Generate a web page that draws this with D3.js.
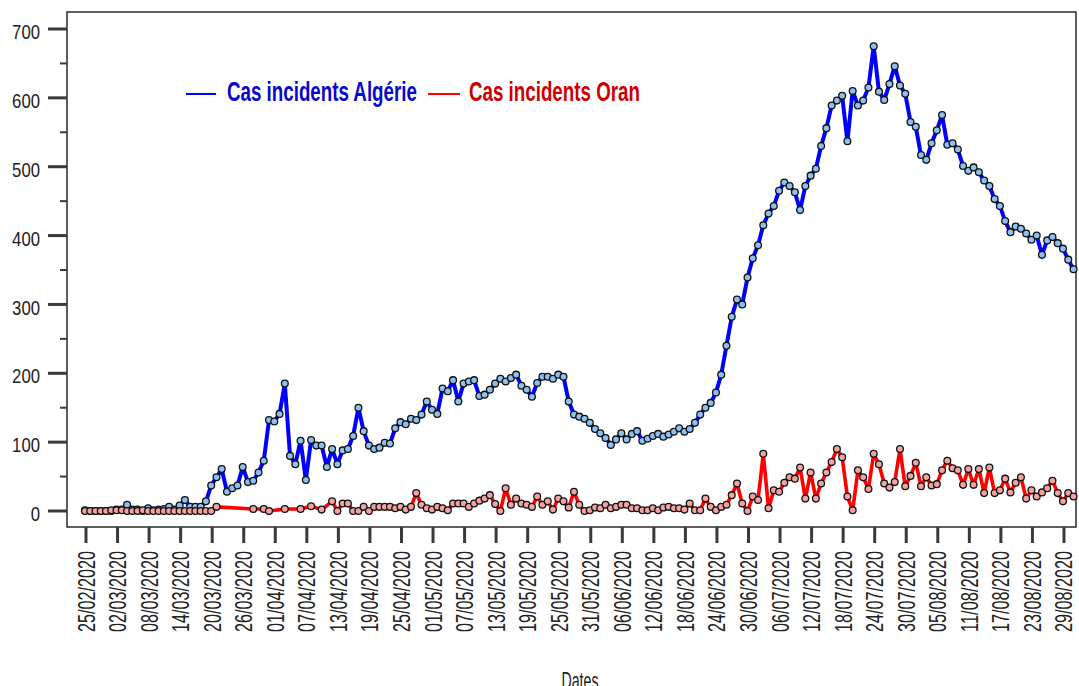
<!DOCTYPE html>
<html>
<head>
<meta charset="utf-8">
<script src="https://cdn.jsdelivr.net/npm/d3@7/dist/d3.min.js"></script>
<style>
  html, body { margin: 0; padding: 0; background: #fff; }
  svg { display: block; }
  text { font-family: "Liberation Sans Narrow", "Arial Narrow", "Liberation Sans", sans-serif; fill: #222; }
</style>
</head>
<body>
<svg id="chart" width="1079" height="686"></svg>
<script>
// Daily incident cases, 25/02/2020 -> 31/08/2020 (one value per day)
const firstDay = "25/02/2020";
const lastDay = "31/08/2020";

const casAlgerie = [
  1, 0, 0, 0, 0, 0, 2, 2, 9, 2,
  2, 0, 4, 1, 2, 3, 6, 2, 8, 16,
  6, 6, 6, 14, 37, 49, 61, 28, 33, 37,
  64, 42, 44, 56, 73, 132, 130, 141, 185, 80,
  68, 102, 45, 103, 95, 95, 64, 90, 68, 88,
  90, 109, 150, 116, 95, 90, 92, 99, 98, 120,
  129, 126, 134, 132, 140, 159, 147, 141, 178, 174,
  190, 159, 185, 188, 190, 167, 169, 176, 185, 192,
  188, 193, 198, 182, 176, 166, 186, 195, 195, 192,
  198, 195, 159, 140, 137, 134, 128, 119, 113, 106,
  96, 104, 113, 104, 112, 116, 102, 105, 109, 112,
  108, 111, 115, 120, 115, 119, 128, 140, 150, 157,
  172, 198, 240, 282, 307, 300, 339, 367, 386, 415,
  432, 443, 465, 477, 472, 463, 437, 472, 487, 497,
  530, 556, 589, 596, 603, 537, 610, 589, 596, 615,
  675, 609, 597, 620, 646, 618, 606, 565, 558, 517,
  510, 534, 553, 575, 532, 534, 525, 501, 494, 499,
  492, 480, 472, 453, 443, 421, 405, 413, 410, 403,
  394, 400, 372, 393, 398, 389, 381, 365, 351
];

// Oran: null where no figure was reported for the day
const casOran = [
  0, 0, 0, 0, 0, 1, 1, 1, 0, 0,
  0, 1, 0, 0, 0, 0, 0, 0, 0, 0,
  0, 0, 0, 0, 0, 6, null, null, null, null,
  null, null, 3, null, 3, 0, null, null, 3, null,
  null, 3, null, 7, null, 2, null, 14, 0, 11,
  11, 0, 0, 6, 0, 6, 6, 6, 6, 4,
  6, 2, 6, 26, 9, 4, 2, 6, 4, 1,
  11, 11, 11, 6, 11, 15, 18, 23, 10, 0,
  33, 9, 18, 11, 9, 6, 21, 9, 14, 2,
  18, 14, 5, 28, 9, 0, 1, 5, 4, 9,
  4, 6, 9, 9, 4, 4, 1, 1, 4, 1,
  5, 6, 4, 4, 2, 11, 1, 1, 18, 6,
  1, 6, 9, 23, 40, 11, 0, 21, 16, 83,
  4, 30, 28, 41, 49, 47, 63, 18, 56, 18,
  40, 56, 71, 90, 78, 21, 1, 59, 49, 32,
  83, 68, 40, 34, 42, 90, 36, 51, 70, 36,
  49, 37, 39, 59, 73, 62, 59, 38, 61, 38,
  61, 26, 63, 26, 30, 47, 27, 41, 49, 18,
  30, 21, 27, 33, 44, 26, 14, 26, 21
];

const dateTicks = [
  "25/02/2020", "02/03/2020", "08/03/2020", "14/03/2020", "20/03/2020",
  "26/03/2020", "01/04/2020", "07/04/2020", "13/04/2020", "19/04/2020",
  "25/04/2020", "01/05/2020", "07/05/2020", "13/05/2020", "19/05/2020",
  "25/05/2020", "31/05/2020", "06/06/2020", "12/06/2020", "18/06/2020",
  "24/06/2020", "30/06/2020", "06/07/2020", "12/07/2020", "18/07/2020",
  "24/07/2020", "30/07/2020", "05/08/2020", "11/08/2020", "17/08/2020",
  "23/08/2020", "29/08/2020"
];

const valueTicks = [0, 100, 200, 300, 400, 500, 600, 700];
const minorTicks = [50, 150, 250, 350, 450, 550, 650];

const seriesNames = ["Cas incidents Algérie", "Cas incidents Oran"];

const parse = d3.timeParse("%d/%m/%Y");
const start = parse(firstDay), end = parse(lastDay);
const days = d3.timeDay.range(start, d3.timeDay.offset(end, 1));

const svg = d3.select("#chart");

const frame = { left: 67, right: 1076, top: 12, bottom: 527 };

const x = d3.scaleTime().domain([start, end]).range([85, 1073.5]);
const y = d3.scaleLinear().domain([0, 700]).range([511, 29]);

// condensed look: squeeze a text horizontally to a given advance width
function squeeze(node, target) {
  const len = node.getComputedTextLength();
  return len > 0 ? target / len : 1;
}

// plot frame
svg.append("rect")
  .attr("x", frame.left).attr("y", frame.top)
  .attr("width", frame.right - frame.left).attr("height", frame.bottom - frame.top)
  .attr("fill", "none").attr("stroke", "#1a1a1a").attr("stroke-width", 1.4);

// y axis: major + minor ticks
const yAxis = svg.append("g");
yAxis.selectAll("line.major").data(valueTicks).join("line")
  .attr("class", "major")
  .attr("x1", 48).attr("x2", frame.left)
  .attr("y1", d => y(d)).attr("y2", d => y(d))
  .attr("stroke", "#3a3a3a").attr("stroke-width", 3);
yAxis.selectAll("line.minor").data(minorTicks).join("line")
  .attr("class", "minor")
  .attr("x1", 60).attr("x2", frame.left)
  .attr("y1", d => y(d)).attr("y2", d => y(d))
  .attr("stroke", "#3a3a3a").attr("stroke-width", 2);
yAxis.selectAll("text").data(valueTicks).join("text")
  .attr("dy", "0.36em")
  .attr("text-anchor", "end")
  .attr("font-size", 20)
  .text(d => d)
  .each(function (d) {
    const s = squeeze(this, String(d).length * 9.3);
    d3.select(this).attr("transform", `translate(40,${y(d) + 3}) scale(${s},1)`);
  });

// x axis ticks and rotated date labels
const tickDates = dateTicks.map(s => ({ label: s, date: parse(s) }));
const xAxis = svg.append("g");
xAxis.selectAll("line").data(tickDates).join("line")
  .attr("x1", d => x(d.date) + 1).attr("x2", d => x(d.date) + 1)
  .attr("y1", frame.bottom).attr("y2", 543)
  .attr("stroke", "#3a3a3a").attr("stroke-width", 3);
xAxis.selectAll("text").data(tickDates).join("text")
  .attr("text-anchor", "end")
  .attr("font-size", 23)
  .text(d => d.label)
  .each(function (d) {
    const s = squeeze(this, 81);
    d3.select(this).attr("transform", `translate(${x(d.date) + 9.5},551) rotate(-90) scale(${s},1)`);
  });

svg.append("text")
  .attr("text-anchor", "middle")
  .attr("font-size", 23)
  .text("Dates")
  .each(function () {
    const s = squeeze(this, 37);
    d3.select(this).attr("transform", `translate(580,689) scale(${s},1)`);
  });

// series
const series = [
  { name: seriesNames[0], values: casAlgerie, line: "#0000ff", fill: "#8cc0ee", width: 4 },
  { name: seriesNames[1], values: casOran, line: "#ff0000", fill: "#f2a2a2", width: 3.6 }
];

const lineGen = d3.line().x(d => x(d.date)).y(d => y(d.value));

series.forEach(s => {
  const pts = days.map((date, i) => ({ date, value: s.values[i] }))
    .filter(p => p.value !== null && p.value !== undefined);
  const g = svg.append("g");
  g.append("path")
    .datum(pts)
    .attr("d", lineGen)
    .attr("fill", "none")
    .attr("stroke", s.line)
    .attr("stroke-width", s.width)
    .attr("stroke-linejoin", "round");
  g.selectAll("circle").data(pts).join("circle")
    .attr("cx", d => x(d.date)).attr("cy", d => y(d.value))
    .attr("r", 3.4)
    .attr("fill", s.fill)
    .attr("stroke", "#111")
    .attr("stroke-width", 1.3);
});

// legend
const legend = [
  { name: seriesNames[0], line: "#0000ff", text: "#0808cc", x1: 186, x2: 216, tx: 227, w: 190 },
  { name: seriesNames[1], line: "#ff0000", text: "#cc0000", x1: 428, x2: 460, tx: 469, w: 171 }
];
const lg = svg.append("g");
legend.forEach(l => {
  lg.append("line")
    .attr("x1", l.x1).attr("x2", l.x2).attr("y1", 94).attr("y2", 94)
    .attr("stroke", l.line).attr("stroke-width", 2);
  lg.append("text")
    .attr("font-size", 27)
    .attr("font-weight", "bold")
    .style("fill", l.text)
    .text(l.name)
    .each(function () {
      const s = squeeze(this, l.w);
      d3.select(this).attr("transform", `translate(${l.tx},100.5) scale(${s},1)`);
    });
});
</script>
</body>
</html>
